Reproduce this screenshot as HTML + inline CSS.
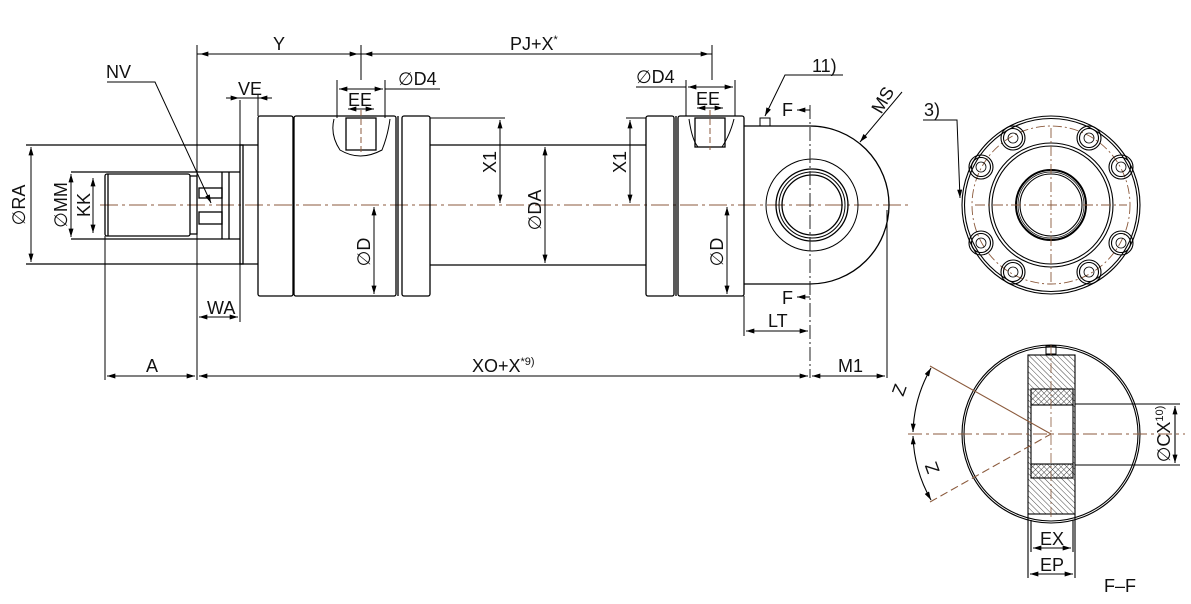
<!DOCTYPE html>
<html><head><meta charset="utf-8"><style>
html,body{margin:0;padding:0;background:#fff}
svg{display:block}
text{font-family:"Liberation Sans Narrow","Liberation Sans",sans-serif;font-size:18px;fill:#111}
</style></head><body>
<svg width="1191" height="604" viewBox="0 0 1191 604" xmlns="http://www.w3.org/2000/svg">
<defs>
<marker id="a" viewBox="0 0 10 6" refX="10" refY="3" markerWidth="12" markerHeight="5" orient="auto-start-reverse" markerUnits="userSpaceOnUse"><path d="M0,0L10,3L0,6z" fill="#000"/></marker>
<pattern id="h" width="4" height="4" patternUnits="userSpaceOnUse" patternTransform="rotate(-45)"><line x1="0" y1="0" x2="0" y2="4" stroke="#333" stroke-width="0.9"/></pattern>
<pattern id="h2" width="4" height="4" patternUnits="userSpaceOnUse" patternTransform="rotate(45)"><line x1="0" y1="0" x2="0" y2="4" stroke="#333" stroke-width="0.9"/></pattern>
<g id="b" fill="none" stroke="#000" stroke-width="1.1"><circle r="12"/><circle r="9.5"/><circle r="5" stroke-width="0.8"/></g>
</defs>
<g fill="none" stroke="#000" stroke-width="1.3">
<line x1="100" y1="205" x2="910" y2="205" stroke="#8b5a3c" stroke-width="1" stroke-dasharray="18,4,3,4"/>
<rect x="105" y="174" width="85" height="62" rx="2"/>
<line x1="108" y1="174" x2="108" y2="236"/>
<path d="M190,176 H197 V234 H190"/>
<line x1="71" y1="172" x2="240" y2="172"/>
<line x1="71" y1="239" x2="240" y2="239"/>
<rect x="199" y="188" width="23" height="10"/>
<rect x="199" y="212" width="23" height="12"/>
<line x1="222" y1="172" x2="222" y2="239"/><line x1="229" y1="172" x2="229" y2="239"/>
<line x1="26" y1="145" x2="258" y2="145"/><line x1="26" y1="264" x2="258" y2="264"/>
<rect x="240" y="145" width="3" height="119"/>
<rect x="258" y="116" width="35" height="180" rx="2"/>
<rect x="294" y="116" width="102" height="180" rx="2"/>
<rect x="402" y="116" width="28" height="180" rx="2"/>
<line x1="398" y1="116" x2="398" y2="296"/>
<line x1="430" y1="145" x2="646" y2="145"/><line x1="430" y1="265" x2="646" y2="265"/>
<rect x="646" y="116" width="28" height="180" rx="2"/>
<rect x="678" y="116" width="66" height="180" rx="2"/>
<line x1="676" y1="116" x2="676" y2="296"/>
<path d="M334,119 Q330,135 340,150 Q360,162 382,150 Q388,135 390,119" stroke-width="1"/>
<rect x="346" y="118" width="30" height="32"/>
<path d="M689,119 Q692,140 698,147 H722 Q730,135 734,119" stroke-width="1"/>
<rect x="695" y="118" width="30" height="29"/>
<path d="M744,126 H810 A79,79 0 0 1 810,284 H744"/>
<circle cx="812" cy="205" r="46" stroke-width="1"/>
<circle cx="812" cy="205" r="36"/>
<circle cx="812" cy="205" r="33" stroke-width="1"/>
<circle cx="812" cy="205" r="30"/>
<rect x="760" y="118" width="10" height="8" stroke-width="1"/>
<line x1="887" y1="210" x2="887" y2="378" stroke-width="1"/>
<line x1="810" y1="105" x2="810" y2="378" stroke="#222" stroke-width="1" stroke-dasharray="14,3,2,3"/>
</g>
<g fill="none" stroke="#000" stroke-width="1">
<line x1="197" y1="45" x2="197" y2="380"/>
<line x1="105" y1="236" x2="105" y2="380"/>
<line x1="361" y1="45" x2="361" y2="80"/>
<line x1="712" y1="45" x2="712" y2="80"/>
<line x1="197" y1="54" x2="712" y2="54"/>
<line x1="200" y1="54" x2="358" y2="54" marker-start="url(#a)" marker-end="url(#a)"/>
<line x1="364" y1="54" x2="709" y2="54" marker-start="url(#a)" marker-end="url(#a)"/>
<line x1="31" y1="147" x2="31" y2="262" marker-start="url(#a)" marker-end="url(#a)"/>
<line x1="71" y1="174" x2="71" y2="237" marker-start="url(#a)" marker-end="url(#a)"/>
<line x1="93" y1="178" x2="93" y2="233" marker-start="url(#a)" marker-end="url(#a)"/>
<line x1="240" y1="100" x2="240" y2="145"/><line x1="258" y1="95" x2="258" y2="116"/>
<line x1="226" y1="98" x2="239" y2="98" marker-end="url(#a)"/><line x1="272" y1="98" x2="259" y2="98" marker-end="url(#a)"/>
<line x1="226" y1="98" x2="272" y2="98"/>
<line x1="240" y1="264" x2="240" y2="322"/>
<line x1="199" y1="317" x2="238" y2="317" marker-start="url(#a)" marker-end="url(#a)"/>
<line x1="107" y1="376" x2="195" y2="376" marker-start="url(#a)" marker-end="url(#a)"/>
<line x1="199" y1="376" x2="808" y2="376" marker-start="url(#a)" marker-end="url(#a)"/>
<line x1="812" y1="376" x2="885" y2="376" marker-start="url(#a)" marker-end="url(#a)"/>
<line x1="746" y1="331" x2="808" y2="331" marker-start="url(#a)" marker-end="url(#a)"/>
<line x1="744" y1="296" x2="744" y2="336"/>
<path d="M107,82 H155 L211,203" marker-end="url(#a)"/>
<line x1="337" y1="80" x2="337" y2="118"/><line x1="385" y1="80" x2="385" y2="118"/>
<line x1="339" y1="89" x2="383" y2="89" marker-start="url(#a)" marker-end="url(#a)"/>
<line x1="385" y1="89" x2="440" y2="89"/>
<line x1="348" y1="109" x2="374" y2="109" marker-start="url(#a)" marker-end="url(#a)"/>
<line x1="686" y1="80" x2="686" y2="116"/><line x1="735" y1="80" x2="735" y2="116"/>
<line x1="636" y1="87" x2="686" y2="87"/>
<line x1="688" y1="87" x2="733" y2="87" marker-start="url(#a)" marker-end="url(#a)"/>
<line x1="697" y1="108" x2="723" y2="108" marker-start="url(#a)" marker-end="url(#a)"/>
<line x1="361" y1="110" x2="361" y2="155" stroke="#8b5a3c" stroke-dasharray="6,3"/>
<line x1="710" y1="110" x2="710" y2="150" stroke="#8b5a3c" stroke-dasharray="6,3"/>
<line x1="430" y1="118" x2="505" y2="118"/><line x1="626" y1="118" x2="646" y2="118"/>
<line x1="500" y1="120" x2="500" y2="203" marker-start="url(#a)" marker-end="url(#a)"/>
<line x1="545" y1="147" x2="545" y2="263" marker-start="url(#a)" marker-end="url(#a)"/>
<line x1="630" y1="120" x2="630" y2="203" marker-start="url(#a)" marker-end="url(#a)"/>
<line x1="374" y1="207" x2="374" y2="294" marker-start="url(#a)" marker-end="url(#a)"/>
<line x1="727" y1="207" x2="727" y2="294" marker-start="url(#a)" marker-end="url(#a)"/>
<line x1="810" y1="110" x2="797" y2="110" marker-end="url(#a)"/>
<line x1="810" y1="297" x2="797" y2="297" marker-end="url(#a)"/>
<path d="M843,75 H785 L765,116" marker-end="url(#a)"/>
<line x1="902" y1="92" x2="860" y2="142" marker-end="url(#a)"/>
</g>
<g>
<text x="273" y="50">Y</text>
<text x="510" y="50">PJ+X<tspan font-size="11" dy="-7">*</tspan></text>
<text x="106" y="78">NV</text>
<text x="238" y="95">VE</text>
<text x="348" y="106">EE</text>
<text x="696" y="105">EE</text>
<text x="398" y="85">∅D4</text>
<text x="636" y="83">∅D4</text>
<text x="207" y="314">WA</text>
<text x="146" y="372">A</text>
<text x="472" y="372">XO+X<tspan font-size="11" dy="-7">*9)</tspan></text>
<text x="838" y="372">M1</text>
<text x="768" y="327">LT</text>
<text x="782" y="116">F</text>
<text x="782" y="304">F</text>
<text x="812" y="72">11)</text>
<text x="924" y="116">3)</text>
<text x="1104" y="592">F–F</text>
<text x="1040" y="545">EX</text>
<text x="1040" y="571">EP</text>
<text transform="translate(25,205) rotate(-90)" text-anchor="middle">∅RA</text>
<text transform="translate(67,205) rotate(-90)" text-anchor="middle">∅MM</text>
<text transform="translate(90,205) rotate(-90)" text-anchor="middle">KK</text>
<text transform="translate(496,162) rotate(-90)" text-anchor="middle">X1</text>
<text transform="translate(626,162) rotate(-90)" text-anchor="middle">X1</text>
<text transform="translate(541,210) rotate(-90)" text-anchor="middle">∅DA</text>
<text transform="translate(370,252) rotate(-90)" text-anchor="middle">∅D</text>
<text transform="translate(723,252) rotate(-90)" text-anchor="middle">∅D</text>
<text transform="translate(1170,434) rotate(-90)" text-anchor="middle">∅CX<tspan font-size="11" dy="-7">10)</tspan></text>
<text transform="translate(888,103) rotate(-60)" text-anchor="middle">MS</text>
<text transform="translate(905,392) rotate(-70)" text-anchor="middle">Z</text>
<text transform="translate(938,466) rotate(-110)" text-anchor="middle">Z</text>
</g>
<g fill="none" stroke="#000" stroke-width="1.1">
<circle cx="1051" cy="205" r="89"/><circle cx="1051" cy="205" r="86.5"/>
<circle cx="1051" cy="205" r="62"/><circle cx="1051" cy="205" r="59"/>
<circle cx="1051" cy="205" r="35" stroke-width="2"/><circle cx="1051" cy="205" r="31"/><circle cx="1051" cy="205" r="33" stroke-width="0.7"/>
<circle cx="1051" cy="205" r="79" stroke="#8b5a3c" stroke-width="0.9" stroke-dasharray="9,3,2,3"/>
<line x1="975" y1="205" x2="1127" y2="205" stroke="#8b5a3c" stroke-width="0.9" stroke-dasharray="10,3,2,3"/>
<line x1="1051" y1="128" x2="1051" y2="282" stroke="#8b5a3c" stroke-width="0.9" stroke-dasharray="10,3,2,3"/>
<path d="M923,120 H957 L960,198" stroke-width="1" marker-end="url(#a)"/>
</g>
<use href="#b" x="981" y="167"/><use href="#b" x="1121" y="167"/><use href="#b" x="981" y="243"/><use href="#b" x="1121" y="243"/>
<use href="#b" x="1013" y="138"/><use href="#b" x="1089" y="138"/><use href="#b" x="1013" y="272"/><use href="#b" x="1089" y="272"/>
<g fill="none" stroke="#000" stroke-width="1.1">
<circle cx="1051" cy="434" r="89"/><circle cx="1051" cy="434" r="87"/>
<rect x="1028" y="355" width="47" height="159" fill="url(#h)"/>
<rect x="1031" y="389" width="42" height="16" fill="url(#h2)"/>
<rect x="1031" y="464" width="42" height="14" fill="url(#h2)"/>
<rect x="1031" y="405" width="42" height="59" fill="#fff"/>
<line x1="1075" y1="404" x2="1180" y2="404"/><line x1="1075" y1="465" x2="1180" y2="465"/>
<line x1="1175" y1="406" x2="1175" y2="463" marker-start="url(#a)" marker-end="url(#a)"/>
<rect x="1046" y="346" width="10" height="8" stroke-width="1"/>
<line x1="1028" y1="514" x2="1028" y2="578"/><line x1="1075" y1="514" x2="1075" y2="578"/>
<line x1="1031" y1="520" x2="1031" y2="552"/><line x1="1073" y1="520" x2="1073" y2="552"/>
<line x1="1033" y1="548" x2="1071" y2="548" marker-start="url(#a)" marker-end="url(#a)"/>
<line x1="1030" y1="574" x2="1073" y2="574" marker-start="url(#a)" marker-end="url(#a)"/>
<line x1="908" y1="434" x2="1185" y2="434" stroke="#8b5a3c" stroke-dasharray="14,4,3,4"/>
<line x1="1051" y1="345" x2="1051" y2="520" stroke="#8b5a3c" stroke-width="0.8" stroke-dasharray="10,3,2,3"/>
<line x1="930" y1="366" x2="1051" y2="434" stroke="#8b5a3c"/>
<line x1="930" y1="502" x2="1051" y2="434" stroke="#8b5a3c" stroke-dasharray="8,4"/>
<path d="M931,368 A138,138 0 0 0 913,432" marker-start="url(#a)" marker-end="url(#a)"/>
<path d="M913,436 A138,138 0 0 0 931,500" marker-start="url(#a)" marker-end="url(#a)"/>
</g>
</svg>
</body></html>
